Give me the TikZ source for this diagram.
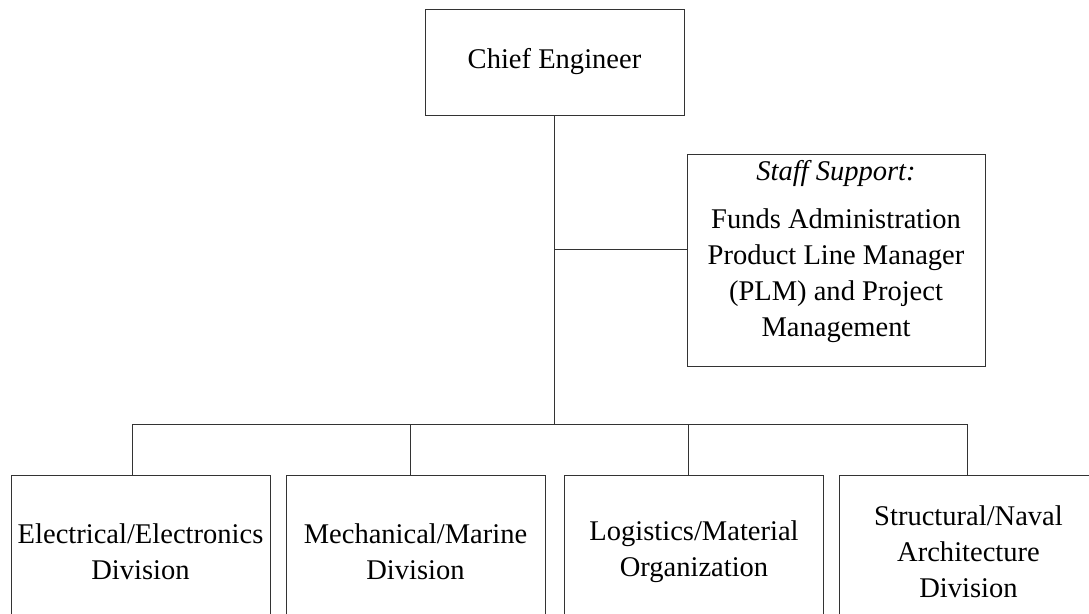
\documentclass[tikz,border=0pt]{standalone}
\usepackage{fontspec}
\setmainfont{Liberation Serif}
\usetikzlibrary{calc}

\begin{document}
\begin{tikzpicture}[x=0.75pt,y=-0.75pt,
  orgbox/.style={draw=black!80,line width=0.75pt,inner sep=0pt,align=center,
    font=\fontsize{21.4}{27}\selectfont},
  divbox/.style={orgbox,minimum width=194.25pt,minimum height=115.5pt},
  link/.style={draw=black!80,line width=0.75pt}]
\useasboundingbox (0,0) rectangle (1089,614);
\clip (0,0) rectangle (1089,614);
% top of the chart
\node[orgbox,minimum width=194.25pt,minimum height=79.5pt] (chief) at (554.5,62) {Chief Engineer};
\node[orgbox,minimum width=223.5pt,minimum height=159pt,text depth=16.7pt] (staff) at (836,260)
  {\textit{Staff Support:}\\[9pt]Funds Administration\\Product Line Manager\\(PLM) and Project\\Management};
% divisions
\node[divbox] (elec) at (140.5,552) {Electrical/Electronics\\Division};
\node[divbox] (mech) at (415.5,552) {Mechanical/Marine\\Division};
\node[divbox] (logi) at (694,552) {Logistics/Material\\Organization};
\node[divbox] (struct) at (968.5,552) {Structural/Naval\\Architecture\\Division};
% connectors
\coordinate (bus) at (554.5,424);
\coordinate (tap) at (554.5,249);
\draw[link] (chief.south) -- (bus);
\draw[link] (tap) -- (tap -| staff.west);
\draw[link] ([xshift=-6pt]elec.north |- bus) -- ([xshift=-1pt]struct.north |- bus);
\foreach \b/\s in {elec/-6pt,mech/-4pt,logi/-4pt,struct/-1pt}
\draw[link] ([xshift=\s]\b.north) -- ([xshift=\s]\b.north |- bus);
\end{tikzpicture}
\end{document}
